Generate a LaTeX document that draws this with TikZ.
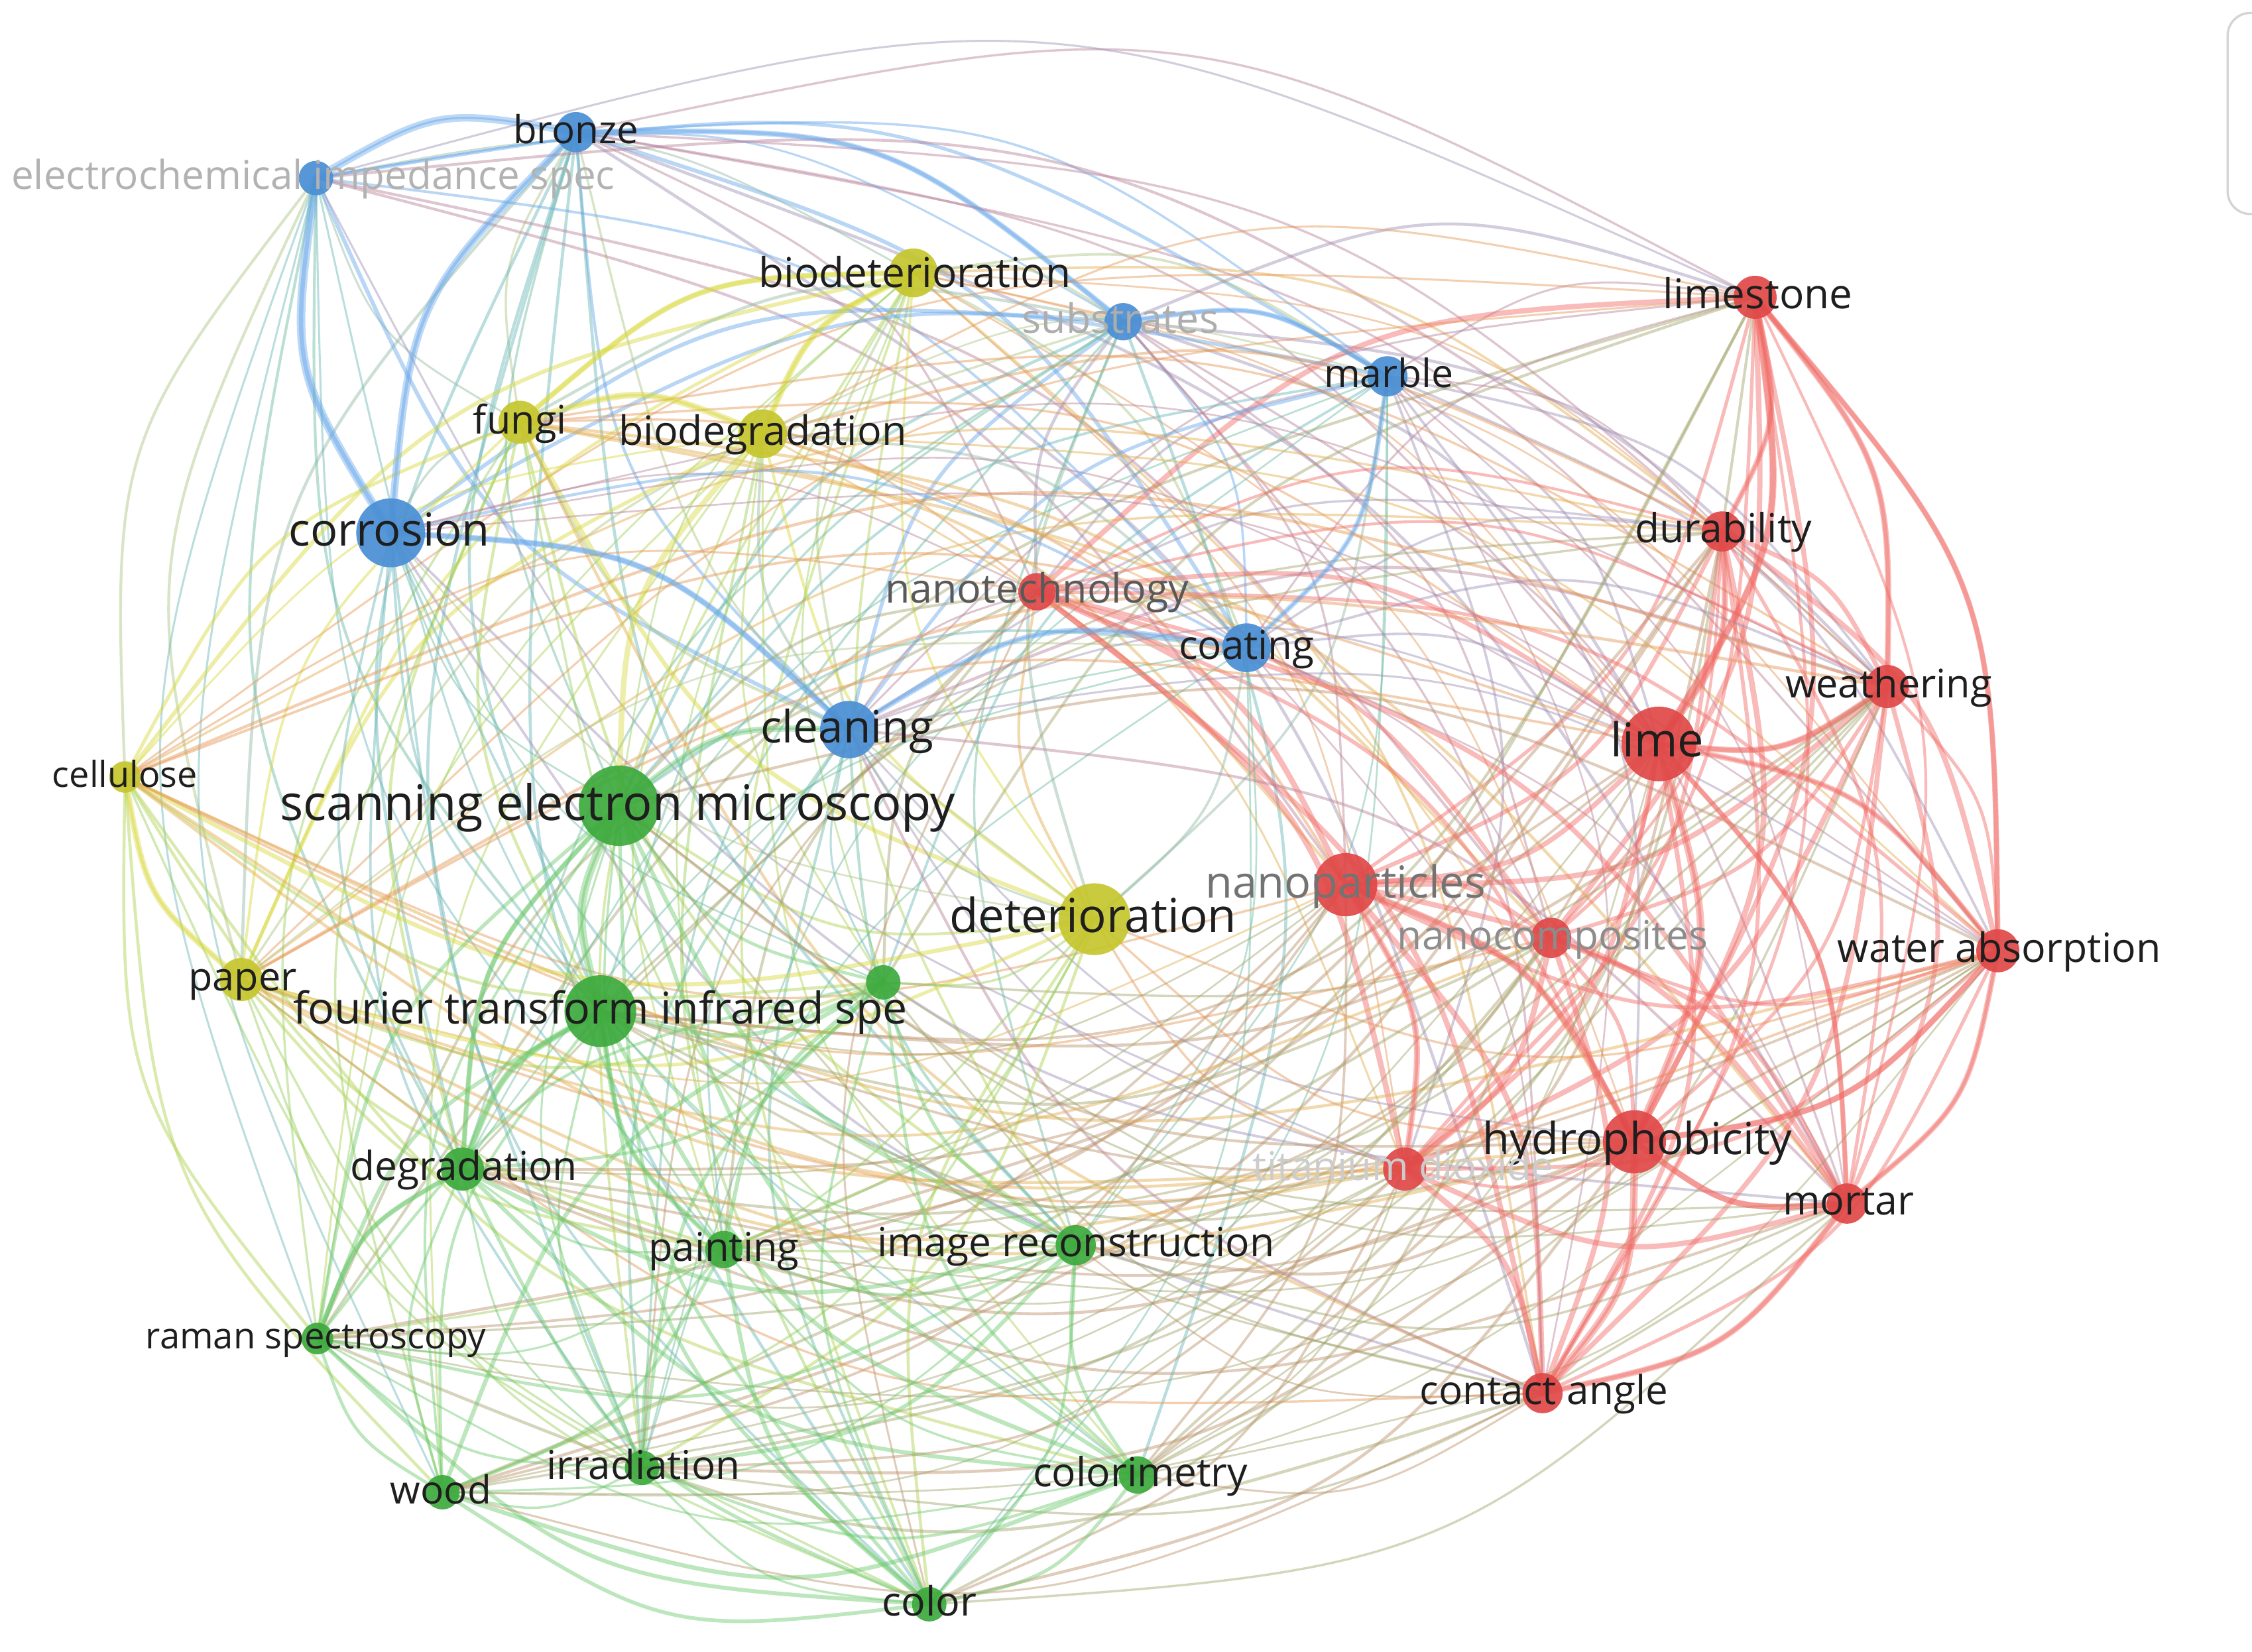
\documentclass[tikz,border=0pt]{standalone}
\usepackage{fontspec}
\setmainfont{Open Sans}
\usetikzlibrary{calc}
\pgfdeclarelayer{edges}
\pgfdeclarelayer{back}
\pgfsetlayers{back,edges,main}
\definecolor{nR}{HTML}{E04848}
\definecolor{nB}{HTML}{4A8FD4}
\definecolor{nG}{HTML}{3DAA3D}
\definecolor{nY}{HTML}{C6C62E}
\definecolor{eR}{HTML}{F06A64}
\definecolor{eB}{HTML}{64A6EA}
\definecolor{eG}{HTML}{6CC86C}
\definecolor{eY}{HTML}{D8D83A}
\definecolor{txt}{HTML}{1E1E1E}
\definecolor{panel}{HTML}{D4D4D4}
\begin{document}
\begin{tikzpicture}[x=0.02cm,y=-0.02cm,
  kw/.style={circle, inner sep=0pt, fill opacity=0.92},
  edge/.style={draw opacity=0.45, line cap=round},
  strong/.style={draw opacity=0.42, line cap=round},
  lab/.style={anchor=base, inner sep=0pt, text=txt},
]
\useasboundingbox (0,0) rectangle (1568,1150);
\begin{pgfonlayer}{back}
\fill[white] (0,0) rectangle (1568,1150);
\end{pgfonlayer}
\clip (0,0) rectangle (1568,1150);
\def\kwlist{bronze/401/92/B/14, eis/220/124/B/12, biodet/636/190/Y/17,
 substr/782/224/B/13, limest/1222/207/R/15, marble/966/262/B/14,
 fungi/362/294/Y/15, biodeg/531/302/Y/17, corros/272/371/B/24,
 durab/1199/370/R/14, nanotech/722/412/R/13, coating/868/451/B/17,
 weath/1314/478/R/15, clean/591/508/B/20, lime/1155/518/R/26,
 cellul/87/541/Y/11, sem/431/561/G/28, nanopart/937/616/R/22,
 deter/762/640/Y/25, nanocomp/1080/653/R/14, water/1391/662/R/15,
 paper/168/682/Y/15, gx/615/684/G/12, ftir/418/704/G/25,
 hydro/1138/795/R/22, degr/322/814/G/15, titan/978/814/R/15,
 mortar/1286/838/R/14, paint/504/870/G/13, imgrec/749/867/G/14,
 raman/221/932/G/11, contact/1074/970/R/14, wood/308/1039/G/12,
 irrad/447/1022/G/12, colorim/792/1027/G/13, color/647/1117/G/12}
\def\redc{R}
% nodes
\foreach \a/\ax/\ay/\ca/\ar in \kwlist {
  \node[kw, fill=n\ca, minimum size={\ar*0.04cm}] (\a) at (\ax,\ay) {};
}
% panel edge
\draw[panel, line width=0.9pt, rounded corners=9] (1600,9) -- (1551,9) -- (1551,149) -- (1600,149);
% edges
\begin{pgfonlayer}{edges}
\foreach \a/\ax/\ay/\ca/\ar [count=\i] in \kwlist {
 \foreach \b/\bx/\by/\cb/\br [count=\j] in \kwlist {
  \ifnum\j>\i\relax
    \edef\tA{\ca}\edef\tB{\cb}%
    \pgfmathtruncatemacro\pick{mod(\i*37+\j*53,100)}%
    \ifx\tA\tB
      \def\keep{1}\edef\ecol{e\ca}%
      \ifx\tA\redc
        \pgfmathsetmacro\lw{1.1+mod(\i*13+\j*7,9)/7}%
      \else
        \pgfmathsetmacro\lw{0.8+mod(\i*13+\j*7,9)/9}%
      \fi
    \else
      \pgfmathtruncatemacro\keep{\pick<56 ? 1 : 0}%
      \ifodd\pick \edef\ecol{e\ca!60!e\cb}\else\edef\ecol{e\cb!60!e\ca}\fi
      \pgfmathsetmacro\lw{0.7+mod(\i*11+\j*3,6)/10}%
    \fi
    \ifnum\keep=1
      \pgfmathsetmacro\side{(((\by-\ay)/100)*(((\ax+\bx)/2-780)/100) - ((\bx-\ax)/100)*(((\ay+\by)/2-600)/100)) > 0 ? 90 : -90}%
      \draw[edge, draw=\ecol, line width=\lw pt] (\a.center) .. controls ($(\a.center)!0.5!(\b.center)!0.36!\side:(\b.center)$) .. (\b.center);
    \fi
  \fi
 }
}
\foreach \a/\b/\c/\w/\s in {bronze/eis/B/3/-90, bronze/corros/B/3/-90, eis/corros/B/3.4/-90,
  bronze/substr/B/2.2/90, corros/clean/B/2.4/90, substr/marble/B/2/90, marble/coating/B/2/90,
  coating/clean/B/2.2/-90, biodet/biodeg/Y/2.6/-90, fungi/biodet/Y/2.2/90, fungi/biodeg/Y/2.6/90,
  cellul/paper/Y/2.4/-90, biodeg/sem/Y/2.2/-90, sem/ftir/G/3.2/-90, ftir/degr/G/2.6/-90,
  ftir/paint/G/2/-90, sem/clean/G/2.4/90, sem/degr/G/2/-90, lime/limest/R/2.8/-90,
  lime/hydro/R/3/90, hydro/contact/R/3/90, lime/weath/R/2.4/-90, lime/durab/R/2.4/-90,
  limest/weath/R/2.4/90, limest/durab/R/2.2/90, water/mortar/R/2.2/90, hydro/water/R/2.4/-90,
  nanopart/titan/R/2.4/90, lime/mortar/R/2/90, contact/mortar/R/2.4/-90, hydro/nanopart/R/2.6/-90,
  limest/water/R/2.2/90, lime/water/R/2.2/90, hydro/mortar/R/2.4/-90, degr/raman/G/2/-90} {
  \draw[strong, draw=e\c, line width=\w pt] (\a.center) .. controls ($(\a.center)!0.5!(\b.center)!0.36!\s:(\b.center)$) .. (\b.center);
}
\end{pgfonlayer}
% labels
\foreach \a/\x/\y/\s/\c/\t in {
 bronze/401/100/15.3/txt/bronze,
 eis/218/132/15.8/black!30/electrochemical impedance spec,
 biodet/637/200/16.3/txt/biodeterioration,
 substr/780/232/16/black!32/substrates,
 limest/1224/215/16.3/txt/limestone,
 marble/967/270/15.5/txt/marble,
 fungi/362/302/15.6/txt/fungi,
 biodeg/531/310/16/txt/biodegradation,
 corros/271/380/18/txt/corrosion,
 durab/1200/378/15.9/txt/durability,
 nanotech/722/420/16/black!65/nanotechnology,
 coating/868/459/15.8/txt/coating,
 weath/1315/486/15.6/txt/weathering,
 clean/590/517/17.7/txt/cleaning,
 lime/1154/527/18.5/txt/lime,
 cellul/87/548/14.2/txt/cellulose,
 sem/430/571/19.4/txt/scanning electron microscopy,
 nanopart/937/625/17.5/black!55/nanoparticles,
 deter/761/649/18.6/txt/deterioration,
 nanocomp/1081/661/15.9/black!45/nanocomposites,
 water/1392/670/16/txt/water absorption,
 paper/169/690/15.6/txt/paper,
 ftir/418/713/17.4/txt/fourier transform infrared spe,
 hydro/1140/804/17.5/txt/hydrophobicity,
 degr/323/822/15.9/txt/degradation,
 titan/977/822/15.7/black!20/titanium dioxide,
 mortar/1287/846/16/txt/mortar,
 paint/504/878/15.7/txt/painting,
 imgrec/749/875/15.9/txt/image reconstruction,
 raman/220/939/14.3/txt/raman spectroscopy,
 contact/1075/978/15.8/txt/contact angle,
 wood/307/1047/15.4/txt/wood,
 irrad/448/1030/15.8/txt/irradiation,
 colorim/794/1035/15.9/txt/colorimetry,
 color/647/1125/16/txt/color} {
  \node[lab, text=\c, font={\fontsize{\s}{\s}\selectfont}] (\a-l) at (\x,\y) {\t};
}
\end{tikzpicture}
\end{document}
